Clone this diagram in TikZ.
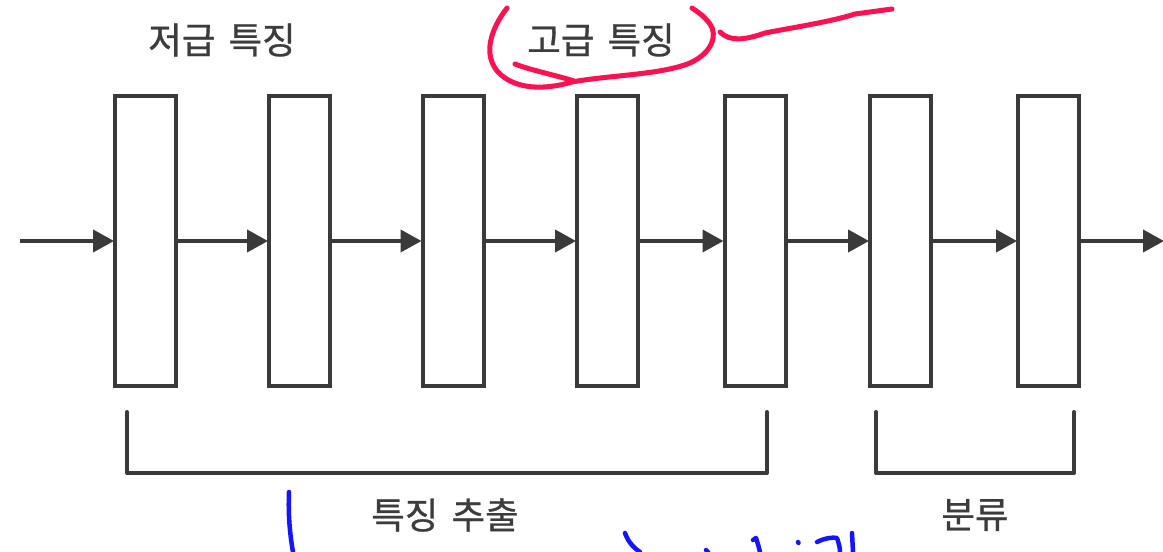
\documentclass[tikz,border=0pt]{standalone}
\usepackage{fontspec}
\newfontfamily\krfont{Noto Sans CJK KR}[FakeBold=0.8,WordSpace=1.6]
\usetikzlibrary{arrows.meta}
\definecolor{ink}{HTML}{3A3A3A}
\definecolor{txt}{HTML}{3C3C3C}
\definecolor{penred}{HTML}{FF1050}
\definecolor{penblue}{HTML}{1414FF}
\tikzset{
  layerbox/.style={draw=ink, line width=4pt, minimum width=61pt, minimum height=290pt, inner sep=0pt},
  flow/.style={draw=ink, line width=4pt, -{Triangle[length=21pt,width=22pt]}, shorten >=-1pt},
  brack/.style={draw=ink, line width=4pt, line cap=round, line join=round},
  lbl/.style={font=\krfont\fontsize{36.5}{39}\selectfont, text=txt, inner sep=0pt},
  redpen/.style={draw=penred, line width=5pt, line cap=round, line join=round},
  bluepen/.style={draw=penblue, line width=4.5pt, line cap=round, line join=round}
}
\begin{document}
\begin{tikzpicture}[x=1pt,y=-1pt]
\useasboundingbox (0,0) rectangle (1163,552);
\fill[white] (0,0) rectangle (1163,552);
% layer boxes
\node[layerbox] (b1) at (145.5,241) {};
\node[layerbox] (b2) at (299.5,241) {};
\node[layerbox] (b3) at (453,241) {};
\node[layerbox] (b4) at (607.5,241) {};
\node[layerbox] (b5) at (755,241) {};
\node[layerbox] (b6) at (900.5,241) {};
\node[layerbox] (b7) at (1048.5,241) {};
\coordinate (in) at (20,241);
\coordinate (out) at (1163,241);
% arrows
\draw[flow] (in) -- (b1.west);
\draw[flow] (b1.east) -- (b2.west);
\draw[flow] (b2.east) -- (b3.west);
\draw[flow] (b3.east) -- (b4.west);
\draw[flow] (b4.east) -- (b5.west);
\draw[flow] (b5.east) -- (b6.west);
\draw[flow] (b6.east) -- (b7.west);
\draw[flow] (b7.east) -- (out);
% brackets
\draw[brack] (127,412) |- (767,473) -- (767,412);
\draw[brack] (876,412) |- (1074,473) -- (1074,412);
% labels
\node[lbl] (low) at (222,40) {저급 특징};
\node[lbl] (high) at (601,40) {고급 특징};
\node[lbl] (feat) at (445,515) {특징 추출};
\node[lbl] (cls) at (975,515) {분류};
% red annotation
\draw[redpen] (507,8) .. controls (490,30) and (483,55) .. (498,72)
  .. controls (515,90) and (545,90) .. (572,82)
  .. controls (610,75) and (660,75) .. (690,63)
  .. controls (712,53) and (718,35) .. (710,24)
  .. controls (704,16) and (698,12) .. (692,8);
\draw[redpen] (515,64) .. controls (530,70) and (555,75) .. (574,81);
\draw[redpen] (720,32) .. controls (730,42) and (745,40) .. (765,33)
  .. controls (790,28) and (830,22) .. (855,14) -- (892,9);
% blue annotation
\draw[bluepen] (289,492) .. controls (288,515) and (290,535) .. (293,552);
\draw[bluepen] (625,533) .. controls (628,542) and (634,548) .. (640,552);
\draw[bluepen] (706,550) -- (708,552);
\draw[bluepen] (753,540) -- (756,538) .. controls (758,544) and (759,548) .. (760,552);
\draw[bluepen] (798,542) -- (798.5,543);
\draw[bluepen] (817,542) .. controls (825,538) and (833,537) .. (837,538) .. controls (839,544) and (840,548) .. (840,552);
\draw[bluepen] (852,533) -- (853,552);
\end{tikzpicture}
\end{document}
